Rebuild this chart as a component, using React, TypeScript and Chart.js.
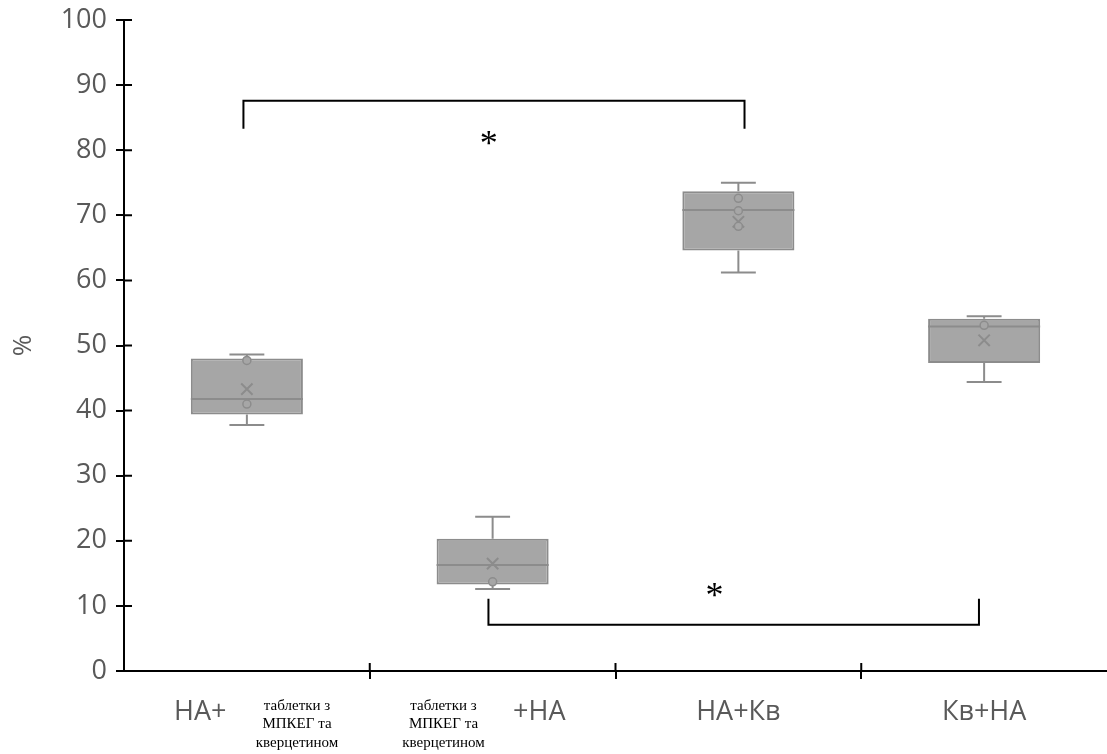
import React, { useEffect, useRef } from 'react';
import { Chart, registerables } from 'chart.js';

Chart.register(...registerables);

// ---- data ----
const categories = [
  'НА+ таблетки з МПКЕГ та кверцетином',
  'таблетки з МПКЕГ та кверцетином +НА',
  'НА+Кв',
  'Кв+НА',
];
const axisLabels = ['НА+', '+НА', 'НА+Кв', 'Кв+НА'];
const noteLines = ['таблетки з', 'МПКЕГ та', 'кверцетином'];

const mins = [37.8, 12.6, 61.2, 44.4];
const q1s = [39.4, 13.3, 64.6, 47.3];
const medians = [41.8, 16.3, 70.8, 52.9];
const q3s = [48.0, 20.3, 73.7, 54.1];
const maxs = [48.6, 23.7, 75.0, 54.5];
const means = [43.3, 16.5, 69.0, 50.8];
const innerPointCats = [0, 0, 1, 2, 2, 2, 3];
const innerPointVals = [47.7, 41.0, 13.7, 72.6, 70.7, 68.3, 53.1];

const yTickMin = 0;
const yTickMax = 100;
const yTickStep = 10;

// significance brackets
const bracketFrom = [0, 1];
const bracketTo = [2, 3];
const bracketLevel = [87.6, 7.1];
const bracketLegEnd = [83.3, 11.1];
const starLevel = [81.9, 12.4];

// ---- styles ----
const FILL = '#a6a6a6';
const LINE = '#8c8c8c';
const TEXT = '#595959';
const SANS = '"Open Sans", "Liberation Sans", sans-serif';
const SERIF = '"Liberation Serif", "DejaVu Serif", serif';
const labelShift = [-0.19, 0.19, 0, 0];
const noteShift = [0.204, -0.2];
const bracketShiftFrom = [-0.014, -0.017];
const bracketShiftTo = [0.025, -0.021];
const starShift = [-0.016, -0.097];
const CAP_FRAC = 0.142;
const STAR_SIZE = 36;

const boxPartsPlugin = {
  id: 'boxParts',
  beforeDatasetsDraw(chart: any) {
    const { ctx, scales } = chart;
    const xs = scales.x;
    const ys = scales.y;
    const w = xs.getPixelForValue(1) - xs.getPixelForValue(0);
    ctx.save();
    ctx.strokeStyle = LINE;
    ctx.lineWidth = 2;
    categories.forEach((_, i) => {
      const cx = xs.getPixelForValue(i);
      const half = (CAP_FRAC * w) / 2;
      ctx.beginPath();
      ctx.moveTo(cx, ys.getPixelForValue(q3s[i]));
      ctx.lineTo(cx, ys.getPixelForValue(maxs[i]));
      ctx.moveTo(cx, ys.getPixelForValue(q1s[i]));
      ctx.lineTo(cx, ys.getPixelForValue(mins[i]));
      ctx.moveTo(cx - half, ys.getPixelForValue(maxs[i]));
      ctx.lineTo(cx + half, ys.getPixelForValue(maxs[i]));
      ctx.moveTo(cx - half, ys.getPixelForValue(mins[i]));
      ctx.lineTo(cx + half, ys.getPixelForValue(mins[i]));
      ctx.stroke();
    });
    ctx.restore();
  },
  afterDatasetDraw(chart: any, args: any) {
    if (args.index !== 0) return;
    const { ctx } = chart;
    const meta = chart.getDatasetMeta(0);
    const ys = chart.scales.y;
    ctx.save();
    ctx.strokeStyle = LINE;
    ctx.lineWidth = 2;
    meta.data.forEach((bar: any, i: number) => {
      const y = ys.getPixelForValue(medians[i]);
      ctx.beginPath();
      ctx.moveTo(bar.x - bar.width / 2, y);
      ctx.lineTo(bar.x + bar.width / 2, y);
      ctx.stroke();
    });
    ctx.restore();
  },
};

const annotationPlugin = {
  id: 'annotations',
  afterDraw(chart: any) {
    const { ctx, scales, chartArea } = chart;
    const xs = scales.x;
    const ys = scales.y;
    const w = xs.getPixelForValue(1) - xs.getPixelForValue(0);
    ctx.save();
    // inner halves of axis ticks
    ctx.strokeStyle = '#000';
    ctx.lineWidth = 2;
    ctx.beginPath();
    ys.ticks.forEach((t: any) => {
      const y = ys.getPixelForValue(t.value);
      ctx.moveTo(chartArea.left, y);
      ctx.lineTo(chartArea.left + 8, y);
    });
    for (let i = 1; i < categories.length; i++) {
      const x = (xs.getPixelForValue(i - 1) + xs.getPixelForValue(i)) / 2;
      ctx.moveTo(x, chartArea.bottom);
      ctx.lineTo(x, chartArea.bottom - 8);
    }
    ctx.stroke();

    // category labels
    ctx.fillStyle = TEXT;
    ctx.font = `27px ${SANS}`;
    ctx.textAlign = 'center';
    ctx.textBaseline = 'middle';
    axisLabels.forEach((t, i) => {
      ctx.fillText(t, xs.getPixelForValue(i) + labelShift[i] * w, chartArea.bottom + 41);
    });
    ctx.fillStyle = '#000';
    ctx.font = `15px ${SERIF}`;
    noteShift.forEach((s, i) => {
      noteLines.forEach((line, k) => {
        ctx.fillText(line, xs.getPixelForValue(i) + s * w, chartArea.bottom + 35 + k * 18.5);
      });
    });

    // brackets
    ctx.strokeStyle = '#000';
    ctx.lineWidth = 2;
    bracketFrom.forEach((f, i) => {
      const x1 = xs.getPixelForValue(f) + bracketShiftFrom[i] * w;
      const x2 = xs.getPixelForValue(bracketTo[i]) + bracketShiftTo[i] * w;
      const yl = ys.getPixelForValue(bracketLevel[i]);
      const ye = ys.getPixelForValue(bracketLegEnd[i]);
      ctx.beginPath();
      ctx.moveTo(x1, ye);
      ctx.lineTo(x1, yl);
      ctx.lineTo(x2, yl);
      ctx.lineTo(x2, ye);
      ctx.stroke();
      const sx = (xs.getPixelForValue(f) + xs.getPixelForValue(bracketTo[i])) / 2 + starShift[i] * w;
      const sy = ys.getPixelForValue(starLevel[i]);
      ctx.font = `${STAR_SIZE}px ${SERIF}`;
      ctx.textBaseline = 'alphabetic';
      ctx.fillText('*', sx, sy + 0.47 * STAR_SIZE);
    });
    ctx.restore();
  },
};

export default function App() {
  const ref = useRef<HTMLCanvasElement | null>(null);
  useEffect(() => {
    if (!ref.current) return;
    const chart = new Chart(ref.current, {
      type: 'bar',
      data: {
        labels: categories,
        datasets: [
          {
            type: 'bar',
            data: categories.map((_, i) => [q1s[i], q3s[i]]) as any,
            backgroundColor: FILL,
            borderColor: LINE,
            borderWidth: 2,
            borderSkipped: false,
            barPercentage: 0.456,
            categoryPercentage: 1,
            order: 3,
          },
          {
            type: 'line',
            data: means as any,
            showLine: false,
            pointStyle: 'crossRot',
            pointRadius: 8,
            pointBorderColor: LINE,
            pointBorderWidth: 2,
            pointBackgroundColor: 'rgba(0,0,0,0)',
            order: 2,
          } as any,
          {
            type: 'line',
            data: innerPointVals.map((v, k) => ({ x: categories[innerPointCats[k]], y: v })) as any,
            showLine: false,
            pointStyle: 'circle',
            pointRadius: 4,
            pointBorderColor: LINE,
            pointBorderWidth: 1.5,
            pointBackgroundColor: FILL,
            order: 1,
          } as any,
        ],
      },
      options: {
        responsive: false,
        animation: false,
        layout: { autoPadding: false, padding: { top: 20, right: 0, left: 0, bottom: 0 } } as any,
        plugins: { legend: { display: false }, tooltip: { enabled: false } },
        scales: {
          x: {
            type: 'category',
            offset: true,
            grid: {
              offset: true,
              drawOnChartArea: false,
              drawTicks: true,
              tickLength: 8,
              lineWidth: 2,
              color: (c: any) =>
                c.type !== 'tick' || c.index === 0 || c.index >= categories.length ? 'rgba(0,0,0,0)' : '#000',
            },
            border: { display: true, color: '#000', width: 2 },
            ticks: { display: false },
            afterFit: (s: any) => {
              s.height = 83;
              s.paddingLeft = 0;
              s.paddingRight = 0;
            },
          },
          y: {
            min: yTickMin,
            max: yTickMax,
            grid: { drawOnChartArea: false, drawTicks: true, tickLength: 8, lineWidth: 2, color: '#000' },
            border: { display: true, color: '#000', width: 2 },
            ticks: {
              stepSize: yTickStep,
              color: TEXT,
              padding: 9,
              font: { family: SANS, size: 27 },
            },
            title: {
              display: true,
              text: '%',
              color: TEXT,
              font: { family: SANS, size: 26 },
              padding: { top: 8, bottom: 0 },
            },
            afterFit: (s: any) => {
              s.width = 124;
              s.paddingTop = 0;
              s.paddingBottom = 0;
            },
          },
        },
      },
      plugins: [boxPartsPlugin, annotationPlugin],
    });
    return () => chart.destroy();
  }, []);
  return (
    <div style={{ position: 'absolute', left: 0, top: 0, width: 1107, height: 754, background: '#fff' }}>
      <canvas ref={ref} width={1107} height={754} style={{ width: 1107, height: 754, display: 'block' }} />
    </div>
  );
}
